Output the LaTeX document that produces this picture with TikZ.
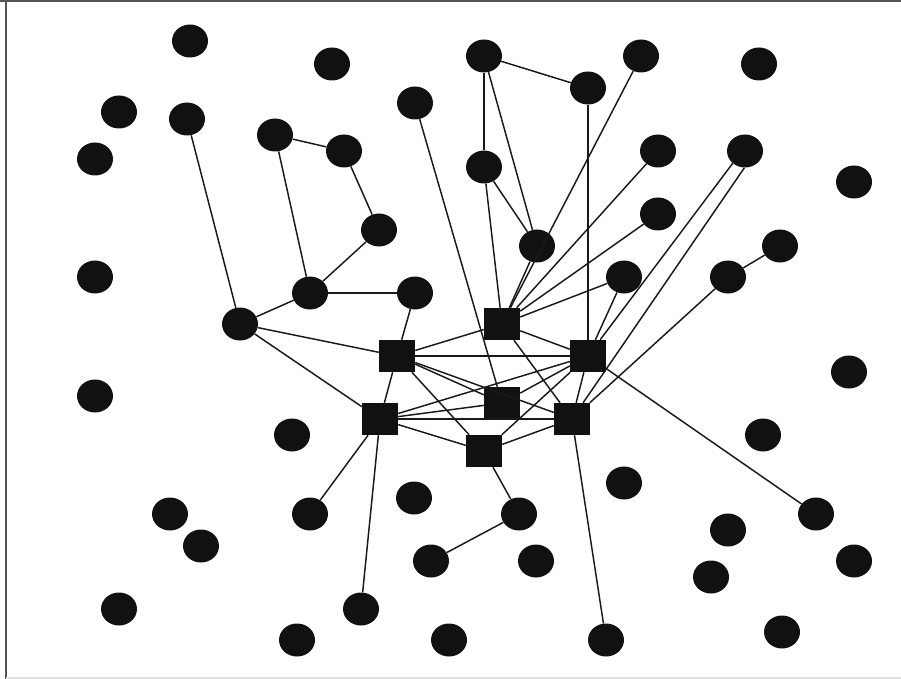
\documentclass[tikz,border=0pt]{standalone}
\usepackage{tikz}
\usetikzlibrary{shapes.geometric}
\definecolor{nodeblack}{HTML}{111111}
\definecolor{framegray}{HTML}{555555}
\tikzset{
	dot/.style={ellipse, fill=nodeblack, draw=none, inner sep=0pt,
			minimum width=1.08cm, minimum height=0.99cm},
	hub/.style={rectangle, fill=nodeblack, draw=none, inner sep=0pt,
			minimum width=1.08cm, minimum height=0.96cm},
	link/.style={black!90, line width=1.25pt}
}

\begin{document}
\begin{tikzpicture}[x=0.03cm, y=-0.03cm]
		\useasboundingbox (0, 0) rectangle (901, 679);
		\draw[framegray, line width=1.7pt]	(0, 1) to (901, 1);
		\draw[framegray, line width=1.7pt]	(6, 0) to (6, 679);
		\draw[black!12, line width=1.2pt]	(6, 678) to (901, 678);

		% round nodes
		\foreach \n/\x/\y in {c1/190/41, c2/332/64, c3/484/56, c4/641/56, c5/759/64,
				c6/119/112, c7/187/119, c8/415/103, c9/588/88, c10/95/159,
				c11/275/135, c12/344/151, c13/484/167, c14/658/151, c15/745/151,
				c16/854/182, c17/379/230, c18/537/246, c19/658/214, c20/780/246,
				c21/95/277, c22/310/293, c23/415/293, c24/624/277, c25/728/277,
				c26/240/324, c27/95/396, c28/292/435, c29/849/372, c30/763/435,
				c31/624/483, c32/170/514, c33/310/514, c34/414/498, c35/519/514,
				c36/201/546, c37/728/530, c38/816/514, c39/431/561, c40/536/561,
				c41/711/577, c42/854/561, c43/119/609, c44/361/609, c45/297/640,
				c46/449/640, c47/606/640, c48/782/632} {
			\node[dot] (\n) at (\x, \y) {};
		}

		% square nodes
		\foreach \n/\x/\y in {s1/502/324, s2/397/356, s3/588/356, s4/502/403,
				s5/380/419, s6/572/419, s7/484/451} {
			\node[hub] (\n) at (\x, \y) {};
		}

		% connectors
		\foreach \a/\b in {c7/c26, c11/c12, c11/c22, c12/c17, c17/c22, c22/c26,
				c22/c23, c8/s4, c26/s2, c26/s5, c23/s2, c3/c9, c3/c13, c3/c18,
				c13/c18, c13/s1, c18/s1, c4/s1, c14/s1, c19/s1, c24/s1, c24/s3,
				c9/s3, c25/s6, c20/c25, s3/c38, s5/c33, s5/c44,
				s7/c35, c35/c39, s6/c47} {
			\draw[link]	(\a) to (\b);
		}
		\draw[link]	(c15.225) to (s3);
		\draw[link]	(c15.268) to (s6);
		\foreach \a/\b in {s1/s2, s1/s3, s1/s6, s2/s3, s2/s4, s2/s6, s2/s7,
				s2/s5, s3/s5, s3/s4, s3/s7, s3/s6, s5/s4, s5/s6, s5/s7, s6/s7} {
			\draw[link]	(\a) to (\b);
		}
	\end{tikzpicture}
\end{document}
